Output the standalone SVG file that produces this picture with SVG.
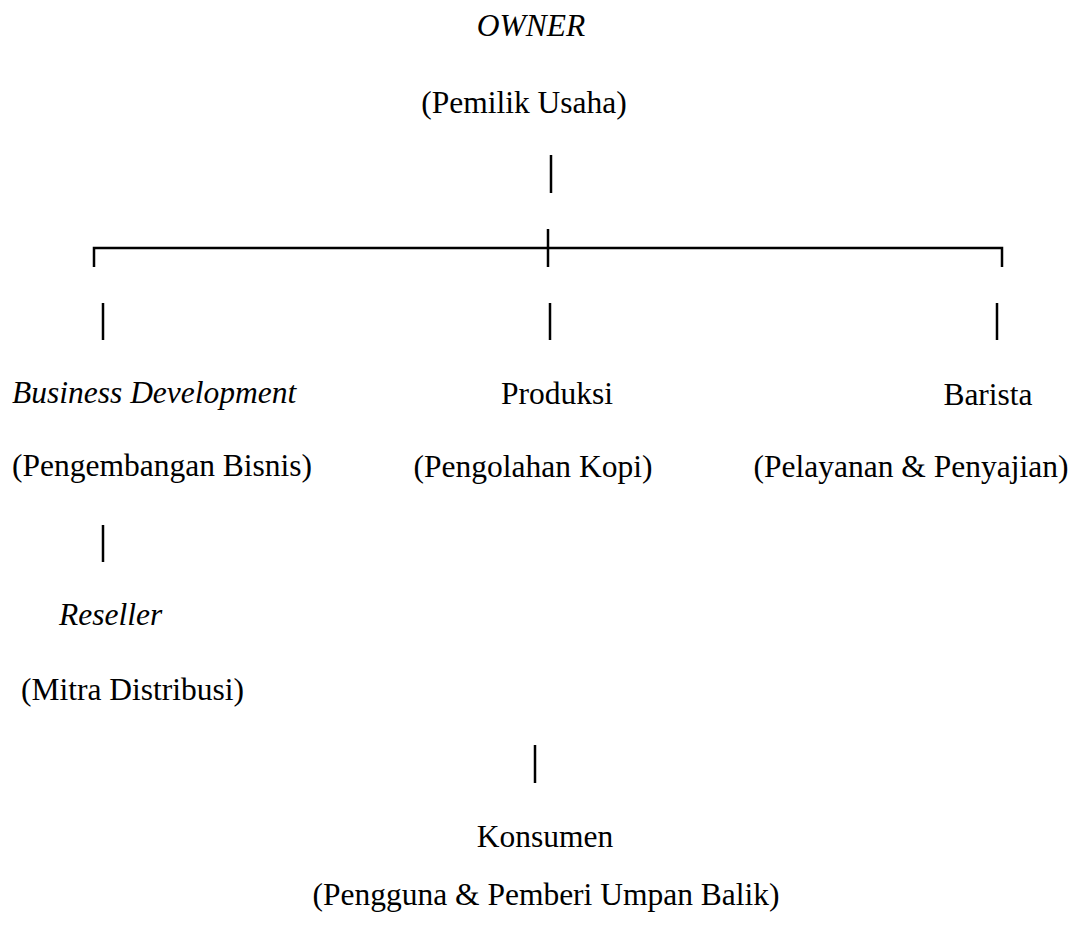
<svg xmlns="http://www.w3.org/2000/svg" width="1078" height="930" viewBox="0 0 1078 930">
<style>
.t{font-family:'Liberation Serif','Times New Roman',Times,serif;font-size:31.5px;fill:#000}
.i{font-style:italic}
.c{text-anchor:middle}
.ln{stroke:#000;stroke-width:2.5;fill:none}
</style>
<rect width="1078" height="930" fill="#fff"/>
<g id="connectors">
<line class="ln" x1="551" y1="155" x2="551" y2="193"/>
<path class="ln" d="M94 267 V248 H1002 V267"/>
<line class="ln" x1="548" y1="229" x2="548" y2="267"/>
<line class="ln" x1="103" y1="303" x2="103" y2="340"/>
<line class="ln" x1="550" y1="303" x2="550" y2="340"/>
<line class="ln" x1="997" y1="303" x2="997" y2="340"/>
<line class="ln" x1="103" y1="525" x2="103" y2="562"/>
<line class="ln" x1="535" y1="745" x2="535" y2="783"/>
</g>
<g font-family="Liberation Serif, serif">
<g id="owner">
<text class="t i c" x="531" y="36">OWNER</text>
<text class="t c" x="524" y="113">(Pemilik Usaha)</text>
</g>
<g id="business-development">
<text class="t i" x="12" y="403">Business Development</text>
<text class="t" x="12" y="476">(Pengembangan Bisnis)</text>
</g>
<g id="produksi">
<text class="t c" x="557" y="404">Produksi</text>
<text class="t c" x="533" y="477">(Pengolahan Kopi)</text>
</g>
<g id="barista">
<text class="t c" x="988" y="405">Barista</text>
<text class="t c" x="911" y="477">(Pelayanan &amp; Penyajian)</text>
</g>
<g id="reseller">
<text class="t i" x="59" y="625">Reseller</text>
<text class="t" x="21" y="700">(Mitra Distribusi)</text>
</g>
<g id="konsumen">
<text class="t c" x="545" y="847">Konsumen</text>
<text class="t c" x="546" y="905">(Pengguna &amp; Pemberi Umpan Balik)</text>
</g>
</g>
</svg>
